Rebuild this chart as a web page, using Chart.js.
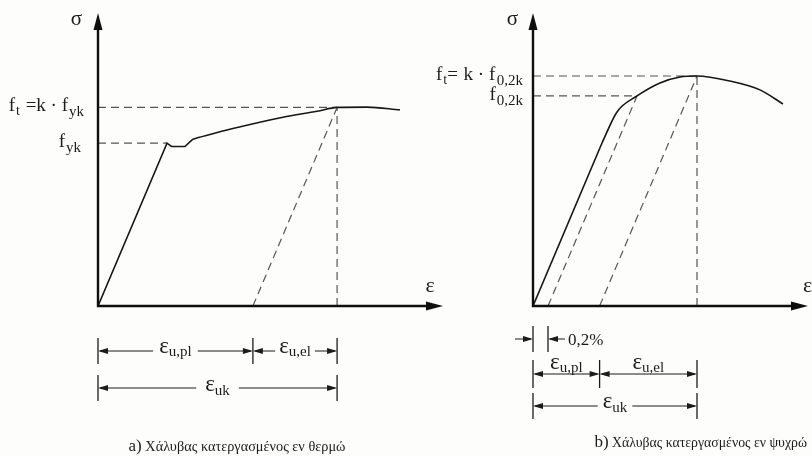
<!DOCTYPE html>
<html>
<head>
<meta charset="utf-8">
<script src="https://cdn.jsdelivr.net/npm/chart.js@4/dist/chart.umd.min.js"></script>
<style>
  html, body { margin: 0; padding: 0; background: #fdfdfb; }
  #wrap { position: relative; width: 812px; height: 456px; overflow: hidden; }
  #wrap canvas { position: absolute; left: 0; top: 0; }
</style>
</head>
<body>
<div id="wrap">
  <canvas id="hot" width="812" height="456"></canvas>
  <canvas id="cold" width="812" height="456"></canvas>
</div>
<script>
// (a) Hot-rolled steel: strain in schematic units, stress relative to f_yk
const hotElasticStrain   = [0, 2.0, 2.13, 2.52, 2.75];
const hotElasticStress   = [0, 1.0, 0.98, 0.98, 1.025];
const hotHardeningStrain = [2.75, 3.91, 5.36, 6.35, 6.93, 7.8, 8.75];
const hotHardeningStress = [1.025, 1.09, 1.16, 1.196, 1.22, 1.222, 1.205];
const hotFyk = 1.0;       // yield stress
const hotFt = 1.22;       // tensile strength f_t = k·f_yk
const hotEuk = 6.93;      // strain at maximum load
const hotModulus = 0.5;   // elastic slope

// (b) Cold-worked steel: strain in %, stress relative to f_0,2k
const coldElasticStrain = [0, 0.92];
const coldElasticStress = [0, 0.776];
const coldCurveStrain   = [0.92, 1.12, 1.387, 1.693, 1.96, 2.187, 2.627, 3.027, 3.333];
const coldCurveStress   = [0.776, 0.924, 1.0, 1.062, 1.090, 1.095, 1.071, 1.029, 0.962];
const coldF02k = 1.0;      // 0.2% proof stress
const coldE02 = 1.387;     // strain where the 0.2% offset line meets the curve
const coldFt = 1.095;      // tensile strength f_t = k·f_0,2k
const coldEuk = 2.187;     // strain at maximum load
const coldModulus = 0.843; // elastic slope
const coldOffset = 0.2;    // offset strain (%)

const SERIF = '"Liberation Serif", "DejaVu Serif", serif';
const INK = '#161616';
const DASH = '#555555';

function pts(xs, ys) { return xs.map((x, i) => ({ x, y: ys[i] })); }

function solid(data, curved) {
  return {
    data, showLine: true, pointRadius: 0, borderColor: INK, borderWidth: 1.6,
    tension: curved ? 0.4 : 0, cubicInterpolationMode: curved ? 'monotone' : 'default',
    order: 1
  };
}
function dashed(data) {
  return {
    data, showLine: true, pointRadius: 0, borderColor: DASH, borderWidth: 1.2,
    borderDash: [8, 5], tension: 0, order: 2
  };
}

// ---- drawing helpers -------------------------------------------------
// parts: [text, fontSize, baselineShift, extraGapAfter]
function richWidth(ctx, parts) {
  let w = 0;
  for (const p of parts) { ctx.font = p[1] + 'px ' + SERIF; w += ctx.measureText(p[0]).width + (p[3] || 0); }
  return w;
}
function rich(ctx, parts, x, y, align) {
  const w = richWidth(ctx, parts);
  let cx = align === 'right' ? x - w : align === 'center' ? x - w / 2 : x;
  ctx.textAlign = 'left';
  ctx.textBaseline = 'alphabetic';
  for (const p of parts) {
    ctx.font = p[1] + 'px ' + SERIF;
    ctx.fillText(p[0], cx, y + (p[2] || 0));
    cx += ctx.measureText(p[0]).width + (p[3] || 0);
  }
  return w;
}
function arrowHead(ctx, tipX, y, dir, len, half) {
  len = len || 10; half = half || 3;
  ctx.beginPath();
  ctx.moveTo(tipX, y);
  ctx.lineTo(tipX - dir * len, y - half);
  ctx.lineTo(tipX - dir * len, y + half);
  ctx.closePath();
  ctx.fill();
}
function hline(ctx, x1, x2, y) {
  ctx.beginPath(); ctx.moveTo(x1, y); ctx.lineTo(x2, y); ctx.stroke();
}
function vtick(ctx, x, y, h) {
  ctx.save(); ctx.lineWidth = 1.3;
  ctx.beginPath(); ctx.moveTo(x, y - h / 2); ctx.lineTo(x, y + h / 2); ctx.stroke();
  ctx.restore();
}
// dimension line between two strains, label either inline (line broken) or above
function dimension(ctx, xa, xb, y, parts, mode, pad) {
  ctx.lineWidth = 1;
  const cx = (xa + xb) / 2;
  if (mode === 'inline') {
    const w = richWidth(ctx, parts);
    const g1 = cx - w / 2 - pad, g2 = cx + w / 2 + pad;
    hline(ctx, xa + 2, g1, y);
    hline(ctx, g2, xb - 2, y);
  } else {
    hline(ctx, xa + 2, xb - 2, y);
  }
  rich(ctx, parts, cx, y, 'center');
  arrowHead(ctx, xa, y, -1);
  arrowHead(ctx, xb, y, 1);
}
function drawAxes(ctx, chart) {
  const { top, right } = chart.chartArea;
  const x0 = chart.scales.x.getPixelForValue(0);
  const y0 = chart.scales.y.getPixelForValue(0);
  ctx.strokeStyle = '#0e0e0e'; ctx.fillStyle = '#0e0e0e'; ctx.lineWidth = 2.4;
  ctx.beginPath();
  ctx.moveTo(x0, y0 + 1.2); ctx.lineTo(x0, top + 10);
  ctx.moveTo(x0 - 1.2, y0); ctx.lineTo(right - 10, y0);
  ctx.stroke();
  ctx.beginPath();
  ctx.moveTo(x0, top); ctx.lineTo(x0 - 4.5, top + 17); ctx.lineTo(x0 + 4.5, top + 17); ctx.closePath(); ctx.fill();
  ctx.beginPath();
  ctx.moveTo(right, y0); ctx.lineTo(right - 17, y0 - 4.5); ctx.lineTo(right - 17, y0 + 4.5); ctx.closePath(); ctx.fill();
}

const baseOptions = (pad, xmax, ymax) => ({
  responsive: false,
  animation: false,
  devicePixelRatio: 1,
  layout: { padding: pad },
  plugins: { legend: { display: false }, tooltip: { enabled: false } },
  events: [],
  scales: {
    x: { type: 'linear', min: 0, max: xmax, display: false },
    y: { type: 'linear', min: 0, max: ymax, display: false }
  }
});

// ---- (a) hot-rolled ---------------------------------------------------
const hotYieldStrain = hotFyk / hotModulus;
const hotElastic = hotFt / hotModulus;       // ε_u,el
const hotPlastic = hotEuk - hotElastic;      // ε_u,pl

const hotDecor = {
  id: 'hotDecor',
  afterDraw(chart) {
    const ctx = chart.ctx, xs = chart.scales.x, ys = chart.scales.y;
    ctx.save();
    drawAxes(ctx, chart);
    ctx.fillStyle = '#1b1b1b'; ctx.strokeStyle = '#1b1b1b';
    const x0 = xs.getPixelForValue(0);
    // axis names
    rich(ctx, [['σ', 21]], x0 - 16, 25, 'right');
    rich(ctx, [['ε', 22]], chart.chartArea.right - 13, 292, 'center');
    // stress labels
    rich(ctx, [['f', 19, 0, 1], ['t', 14, 4, 1], [' =k · f', 19, 0, 1], ['yk', 15, 5]], x0 - 14, ys.getPixelForValue(hotFt) + 4, 'right');
    rich(ctx, [['f', 19, 0, 1], ['yk', 15, 5]], x0 - 17, ys.getPixelForValue(hotFyk) + 4, 'right');
    // strain dimensions
    const pa = x0, pb = xs.getPixelForValue(hotPlastic), pc = xs.getPixelForValue(hotEuk);
    const r1 = 351, r2 = 388;
    [pa, pb, pc].forEach(x => vtick(ctx, x, r1, 26));
    [pa, pc].forEach(x => vtick(ctx, x, r2, 26));
    dimension(ctx, pa, pb, r1, [['ε', 23, 2], ['u,pl', 15, 5]], 'inline', 6);
    dimension(ctx, pb, pc, r1, [['ε', 23, 2], ['u,el', 15, 5]], 'inline', 4);
    dimension(ctx, pa, pc, r2, [['ε', 23, 3], ['uk', 15, 7]], 'inline', 9);
    // caption
    rich(ctx, [['a)', 17], [' Χάλυβας κατεργασμένος εν θερμώ', 14.3]], 237, 451, 'center');
    ctx.restore();
  }
};

new Chart(document.getElementById('hot'), {
  type: 'scatter',
  data: {
    datasets: [
      solid(pts(hotElasticStrain, hotElasticStress), false),
      solid(pts(hotHardeningStrain, hotHardeningStress), true),
      dashed([{ x: 0, y: hotFt }, { x: hotEuk, y: hotFt }]),
      dashed([{ x: 0, y: hotFyk }, { x: hotYieldStrain, y: hotFyk }]),
      dashed([{ x: hotEuk, y: 0 }, { x: hotEuk, y: hotFt }]),
      dashed([{ x: hotPlastic, y: 0 }, { x: hotEuk, y: hotFt }])
    ]
  },
  options: baseOptions({ left: 98, right: 369, top: 13, bottom: 150 }, 10, 1.8),
  plugins: [hotDecor]
});

// ---- (b) cold-worked --------------------------------------------------
const coldElastic = coldFt / coldModulus;    // ε_u,el
const coldPlastic = coldEuk - coldElastic;   // ε_u,pl

const coldDecor = {
  id: 'coldDecor',
  afterDraw(chart) {
    const ctx = chart.ctx, xs = chart.scales.x, ys = chart.scales.y;
    ctx.save();
    drawAxes(ctx, chart);
    ctx.fillStyle = '#1b1b1b'; ctx.strokeStyle = '#1b1b1b';
    const x0 = xs.getPixelForValue(0);
    rich(ctx, [['σ', 21]], x0 - 15, 25, 'right');
    rich(ctx, [['ε', 22]], chart.chartArea.right - 5, 292, 'left');
    rich(ctx, [['f', 19, 0, 1], ['t', 14, 4, 0], ['= ', 19, 0, 1], ['k · f', 19, 0, 1.5], ['0,2k', 15, 5]], x0 - 10, ys.getPixelForValue(coldFt) + 4, 'right');
    rich(ctx, [['f', 19, 0, 1], ['0,2k', 15, 5]], x0 - 10, ys.getPixelForValue(coldF02k) + 4, 'right');

    const pa = x0, po = xs.getPixelForValue(coldOffset);
    const pb = xs.getPixelForValue(coldPlastic), pc = xs.getPixelForValue(coldEuk);
    const r0 = 339, r1 = 374, r2 = 406;
    // 0,2% offset
    [pa, po].forEach(x => vtick(ctx, x, r0, 26));
    ctx.lineWidth = 1;
    hline(ctx, pa - 18, pa - 2, r0); arrowHead(ctx, pa, r0, 1);
    hline(ctx, po + 2, po + 17, r0); arrowHead(ctx, po, r0, -1);
    rich(ctx, [['0,2%', 17]], po + 20, r0 + 6, 'left');
    // ε_u,pl / ε_u,el
    [pa, pb, pc].forEach(x => vtick(ctx, x, r1, 28));
    dimension(ctx, pa, pb, r1, [['ε', 23, -5], ['u,pl', 15, -2]], 'above', 0);
    dimension(ctx, pb, pc, r1, [['ε', 23, -5], ['u,el', 15, -2]], 'above', 0);
    // ε_uk
    [pa, pc].forEach(x => vtick(ctx, x, r2, 26));
    dimension(ctx, pa, pc, r2, [['ε', 23, 2], ['uk', 15, 6]], 'inline', 5);
    // caption
    rich(ctx, [['b)', 17], [' Χάλυβας κατεργασμένος εν ψυχρώ', 13.8]], 807, 447, 'right');
    ctx.restore();
  }
};

new Chart(document.getElementById('cold'), {
  type: 'scatter',
  data: {
    datasets: [
      solid(pts(coldElasticStrain, coldElasticStress), false),
      solid(pts(coldCurveStrain, coldCurveStress), true),
      dashed([{ x: 0, y: coldFt }, { x: coldEuk, y: coldFt }]),
      dashed([{ x: 0, y: coldF02k }, { x: coldE02, y: coldF02k }]),
      dashed([{ x: coldEuk, y: 0 }, { x: coldEuk, y: coldFt }]),
      dashed([{ x: coldOffset, y: 0 }, { x: coldE02, y: coldF02k }]),
      dashed([{ x: coldPlastic, y: 0 }, { x: coldEuk, y: coldFt }])
    ]
  },
  options: baseOptions({ left: 533, right: 4, top: 13, bottom: 150 }, 3.667, 1.395),
  plugins: [coldDecor]
});
</script>
</body>
</html>
